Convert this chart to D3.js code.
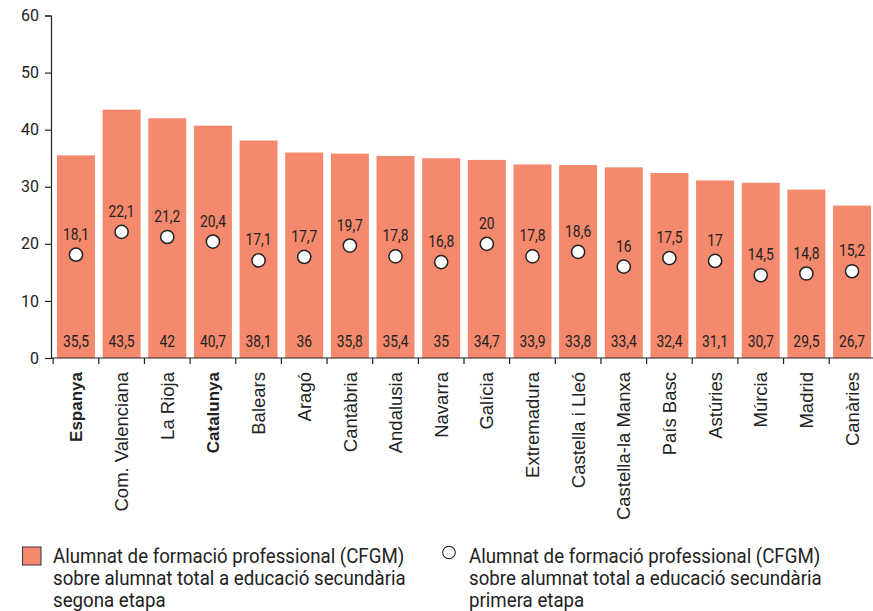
<!DOCTYPE html>
<html>
<head>
<meta charset="utf-8">
<script src="https://cdn.jsdelivr.net/npm/d3@7"></script>
<style>
  html, body { margin: 0; padding: 0; background: #fff; }
  svg { display: block; }
</style>
</head>
<body>
<svg id="chart" width="873" height="611"></svg>
<script>
// Regions (Espanya and Catalunya are shown in bold)
const regions = ["Espanya", "Com. Valenciana", "La Rioja", "Catalunya", "Balears", "Aragó",
  "Cantàbria", "Andalusia", "Navarra", "Galícia", "Extremadura", "Castella i Lleó",
  "Castella-la Manxa", "País Basc", "Astúries", "Múrcia", "Madrid", "Canàries"];
const boldRegions = ["Espanya", "Catalunya"];

// CFGM share of upper secondary students (bars)
const secondStage = [35.5, 43.5, 42, 40.7, 38.1, 36, 35.8, 35.4, 35, 34.7, 33.9, 33.8,
  33.4, 32.4, 31.1, 30.7, 29.5, 26.7];
// CFGM share of lower secondary students (circles)
const firstStage = [18.1, 22.1, 21.2, 20.4, 17.1, 17.7, 19.7, 17.8, 16.8, 20, 17.8, 18.6,
  16, 17.5, 17, 14.5, 14.8, 15.2];

const yTicks = [0, 10, 20, 30, 40, 50, 60];
const legendBar = ["Alumnat de formació professional (CFGM)",
  "sobre alumnat total a educació secundària", "segona etapa"];
const legendDot = ["Alumnat de formació professional (CFGM)",
  "sobre alumnat total a educació secundària", "primera etapa"];

const barColor = "#F4896E";
const ink = "#222";
const numFont = "Roboto, sans-serif";
const fmt = v => String(v).replace(".", ",");

const svg = d3.select("#chart");

const x = d3.scaleBand()
  .domain(regions)
  .range([51, 877])
  .paddingInner(0.168)
  .paddingOuter(0.131);

const y = d3.scaleLinear().domain([0, 60]).range([358, 15.5]);

// Bars
svg.append("g").selectAll("rect")
  .data(regions)
  .join("rect")
  .attr("x", d => x(d))
  .attr("y", (d, i) => y(secondStage[i]))
  .attr("width", x.bandwidth())
  .attr("height", (d, i) => y(0) - y(secondStage[i]))
  .attr("fill", barColor);

// Narrow text helper (horizontally squeezed Roboto)
function narrowText(g, tx, ty, str, size, sx, anchor) {
  return g.append("text")
    .attr("transform", `translate(${tx},${ty}) scale(${sx},1)`)
    .attr("text-anchor", anchor || "middle")
    .attr("font-family", numFont)
    .attr("font-size", size)
    .attr("fill", ink)
    .text(str);
}

// Bar value labels at the foot of each bar
const barLabels = svg.append("g");
regions.forEach((r, i) => {
  narrowText(barLabels, x(r) + x.bandwidth() / 2, 346.5, fmt(secondStage[i]), 16.5, 0.84);
});

// Circles with their labels
const dots = svg.append("g");
regions.forEach((r, i) => {
  const cx = x(r) + x.bandwidth() / 2;
  const cy = y(firstStage[i]);
  dots.append("circle")
    .attr("cx", cx).attr("cy", cy).attr("r", 6.6)
    .attr("fill", "#fff").attr("stroke", ink).attr("stroke-width", 1.5);
  narrowText(dots, cx, cy - 15, fmt(firstStage[i]), 16.5, 0.84);
});

// Y axis
const yAxis = svg.append("g")
  .attr("transform", "translate(51,0)")
  .call(d3.axisLeft(y).tickValues(yTicks).tickSize(6).tickPadding(6).tickFormat(d3.format("d")));
yAxis.select(".domain").attr("stroke", ink).attr("stroke-width", 1.2);
yAxis.selectAll(".tick line").attr("stroke", ink).attr("stroke-width", 1.2);
yAxis.selectAll(".tick text")
  .attr("font-family", numFont).attr("font-size", 16).attr("fill", ink);

// X axis: baseline with ticks between bands
const xAxis = svg.append("g");
xAxis.append("line")
  .attr("x1", 51).attr("x2", 873)
  .attr("y1", y(0)).attr("y2", y(0))
  .attr("stroke", ink).attr("stroke-width", 1.2);
const gap = (x.step() - x.bandwidth()) / 2;
const bounds = regions.map(r => x(r) - gap);
bounds.push(x(regions[regions.length - 1]) + x.bandwidth() + gap);
xAxis.selectAll("line.tk")
  .data(bounds)
  .join("line")
  .attr("class", "tk")
  .attr("x1", d => Math.max(51.6, d)).attr("x2", d => Math.max(51.6, d))
  .attr("y1", y(0)).attr("y2", y(0) + 6)
  .attr("stroke", ink).attr("stroke-width", 1.2);

xAxis.selectAll("text")
  .data(regions)
  .join("text")
  .attr("transform", d => `translate(${x(d) + x.bandwidth() / 2},372) rotate(-90)`)
  .attr("text-anchor", "end")
  .attr("dy", "0.36em")
  .attr("font-family", "'Liberation Sans', Arial, sans-serif")
  .attr("font-size", d => boldRegions.includes(d) ? 17 : 18.5)
  .attr("font-weight", d => boldRegions.includes(d) ? "bold" : "normal")
  .attr("fill", ink)
  .text(d => d);

// Legend
const legend = svg.append("g");

legend.append("rect")
  .attr("x", 22.5).attr("y", 547).attr("width", 18.5).attr("height", 18)
  .attr("fill", barColor).attr("stroke", "#333").attr("stroke-width", 1);
legendBar.forEach((t, i) => {
  narrowText(legend, 53, 562.5 + i * 22, t, 21, 0.89, "start");
});

legend.append("circle")
  .attr("cx", 449).attr("cy", 552.5).attr("r", 6.3)
  .attr("fill", "#fff").attr("stroke", ink).attr("stroke-width", 1.1);
legendDot.forEach((t, i) => {
  narrowText(legend, 469, 562.5 + i * 22, t, 21, 0.89, "start");
});
</script>
</body>
</html>
